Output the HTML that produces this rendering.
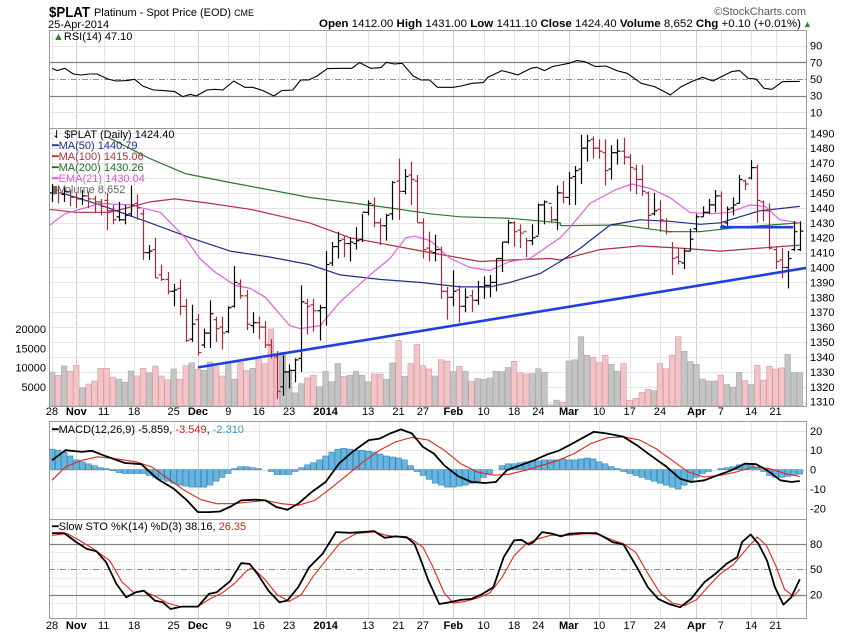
<!DOCTYPE html>
<html><head><meta charset="utf-8">
<style>
html,body{margin:0;padding:0;background:#fff;}
svg{display:block;font-family:"Liberation Sans",sans-serif;}
.ax{font-size:11px;fill:#000;}
</style></head>
<body>
<svg id="chart" width="850" height="633" viewBox="0 0 850 633">
  <defs>
    <clipPath id="cR"><rect x="49" y="30" width="757" height="98"/></clipPath>
    <clipPath id="cP"><rect x="49" y="128" width="757" height="278"/></clipPath>
    <clipPath id="cM"><rect x="49" y="421" width="757" height="98"/></clipPath>
    <clipPath id="cS"><rect x="49" y="519" width="757" height="99"/></clipPath>
  </defs>
  <rect x="0" y="0" width="850" height="633" fill="#fff"/>
  <g id="grid"></g>
  <g id="marks"></g>
  <g id="frames" fill="none" stroke="#9a9a9a" stroke-width="1">
    <rect x="49.5" y="30.5" width="757" height="98"/>
    <rect x="49.5" y="128.5" width="757" height="278"/>
    <rect x="49.5" y="421.5" width="757" height="98"/>
    <rect x="49.5" y="519.5" width="757" height="99"/>
  </g>
  <g id="axes"></g>

  <text x="49" y="17" font-size="15" font-weight="bold" textLength="41" lengthAdjust="spacingAndGlyphs">$PLAT</text>
  <text x="94" y="16" font-size="11" textLength="160" lengthAdjust="spacingAndGlyphs">Platinum  - Spot Price (EOD) <tspan font-size="9">CME</tspan></text>
  <text x="48" y="28" font-size="11">25-Apr-2014</text>
  <text x="319" y="27" font-size="11" textLength="482" lengthAdjust="spacingAndGlyphs"><tspan font-weight="bold">Open</tspan> 1412.00 <tspan font-weight="bold">High</tspan> 1431.00 <tspan font-weight="bold">Low</tspan> 1411.10 <tspan font-weight="bold">Close</tspan> 1424.40 <tspan font-weight="bold">Volume</tspan> 8,652 <tspan font-weight="bold">Chg</tspan> +0.10 (+0.01%)</text>
  <text x="803" y="27" font-size="9" fill="#2a8a2a">▲</text>
  <text x="806" y="15" font-size="11" text-anchor="end" fill="#555">©StockCharts.com</text>

  <text x="53" y="40" font-size="11"><tspan fill="#2a8a2a">▲</tspan>RSI(14) 47.10</text>

  <g font-size="11">
    <text x="52" y="138">⇃ $PLAT (Daily) 1424.40</text>
    <text x="52" y="149" fill="#1f2f8a">━MA(50) 1440.79</text>
    <text x="52" y="160" fill="#b03040">━MA(100) 1415.06</text>
    <text x="52" y="171" fill="#1e6e1e">━MA(200) 1430.26</text>
    <text x="52" y="182" fill="#e050e0">━EMA(21) 1430.04</text>
    <text x="52" y="193" fill="#666">▮Volume 8,652</text>
  </g>
  <text x="52" y="433" font-size="11">━MACD(12,26,9) -5.859, <tspan fill="#d02010">-3.549</tspan>, <tspan fill="#4090d0">-2.310</tspan></text>
  <text x="52" y="530" font-size="11">━Slow STO %K(14) %D(3) 38.16, <tspan fill="#d02010">26.35</tspan></text>
</svg>
<script>
// ---------- data ----------
const O = [1450,1452,1449,1451,1447,1446,1448,1446,1444,
1445,1438,1434,1432,1436,1443,
1436,1410,1412,1395,1392,1384,1386,1374,1352,
1365,1348,1356,1365,1360,1357,1374,1389,1381,1361,1363,1360,1348,1340,1320,1330,1331,1339,1376,1375,1371,
1373,1403,1414,1419,1416,1416,1419,1437,1442,1430,1428,1436,1458,1451,1462,1458,1430,1413,1410,1412,1384,
1380,1385,1374,1381,1378,1387,1388,1390,1406,1417,1430,1425,1424,1418,1421,1442,1443,1432,1450,
1447,1461,1466,1480,1486,1480,1477,1466,1477,1478,1474,1466,1459,1450,1436,1439,1431,1424,1407,1403,1411,
1426,1434,1437,1442,1448,1430,1440,1443,1458,1460,1467,1444,1438,1412,1405,1400,1412,1412];
const H = [1456,1455,1455,1452,1450,1452,1451,1448,1446,
1450,1442,1444,1442,1455,1449,
1439,1415,1420,1402,1397,1389,1392,1379,1375,
1369,1359,1378,1367,1367,1374,1401,1392,1385,1370,1367,1364,1352,1344,1341,1335,1339,1388,1379,1379,1375,
1411,1417,1424,1421,1420,1427,1436,1445,1447,1433,1436,1458,1473,1466,1471,1462,1433,1424,1422,1414,1387,
1398,1388,1386,1385,1391,1394,1395,1406,1417,1432,1431,1429,1420,1429,1443,1445,1441,1455,1458,
1464,1468,1489,1489,1488,1486,1486,1482,1486,1487,1476,1469,1469,1451,1450,1445,1433,1417,1413,1413,1426,
1436,1441,1446,1452,1451,1441,1447,1462,1459,1472,1469,1445,1443,1414,1413,1411,1431,1431];
const L = [1444,1443,1444,1441,1440,1442,1440,1437,1435,
1425,1429,1431,1429,1434,1432,
1405,1405,1393,1391,1382,1374,1368,1350,1350,
1341,1346,1346,1350,1345,1356,1373,1379,1358,1356,1352,1346,1339,1312,1314,1319,1323,1330,1355,1357,1351,
1361,1401,1406,1407,1404,1412,1417,1435,1427,1415,1418,1432,1432,1449,1442,1430,1406,1404,1404,1379,1365,
1374,1363,1370,1370,1375,1379,1380,1384,1397,1416,1414,1413,1407,1415,1422,1429,1430,1425,1443,
1442,1442,1456,1471,1473,1473,1455,1459,1469,1469,1451,1449,1448,1426,1435,1424,1422,1395,1402,1399,1411,
1424,1434,1436,1437,1427,1428,1435,1443,1452,1459,1430,1431,1412,1399,1393,1386,1411,1411];
const C = [1452,1450,1451,1447,1446,1448,1446,1444,1441,
1438,1432,1432,1435,1442,1440,
1410,1411,1393,1392,1384,1385,1374,1351,1362,
1343,1356,1369,1359,1356,1373,1390,1381,1362,1363,1360,1348,1341,1317,1330,1331,1338,1377,1374,1371,1373,
1402,1414,1418,1416,1417,1418,1437,1443,1430,1428,1435,1457,1451,1461,1459,1430,1412,1411,1412,1384,1380,
1384,1374,1380,1378,1387,1388,1390,1406,1417,1430,1424,1423,1418,1420,1442,1444,1432,1450,1447,
1460,1465,1480,1485,1480,1478,1465,1477,1478,1474,1467,1459,1451,1435,1438,1432,1424,1406,1404,1411,1419,
1434,1437,1442,1448,1428,1439,1442,1459,1456,1467,1445,1438,1413,1404,1400,1406,1424,1424.4];
// volume in thousands
const VOL = [8.8,8.0,10.4,9.0,10.6,4.7,5.7,6.5,9.8,
9.8,7.5,7.0,6.2,9.1,7.8,
9.8,8.6,10.4,7.8,6.8,9.6,7.0,10.5,11.2,
9.5,9.3,11.4,10.2,7.8,11.5,7.0,11.3,9.2,9.8,12.0,11.0,20.0,13.0,14.0,9.0,3.4,5.8,7.3,8.0,5.0,
9.0,6.3,11.0,7.7,8.0,9.0,8.0,6.3,8.3,8.3,6.9,11.2,17.0,7.7,11.0,16.0,10.5,9.6,7.8,12.0,11.6,
8.9,10.3,9.0,6.4,7.1,6.9,7.3,9.0,8.9,10.0,11.6,8.6,8.3,8.4,9.7,8.7,0.3,1.5,1.0,
11.7,12.0,18.0,13.2,12.6,11.3,13.2,10.8,9.0,11.0,1.5,2.0,3.5,4.3,4.0,11.0,9.7,13.2,18.0,14.2,11.5,
10.8,7.0,6.5,6.5,8.0,5.6,4.9,8.7,6.6,5.6,10.6,6.7,10.3,9.6,9.9,13.4,8.7,8.652];
// moving averages: [bar index, value]
const MA50 = [[1.6,1450],[7.9,1442],[16.1,1430],[22.7,1420],[29.3,1411],[35.9,1407],[42.3,1402],[47.4,1395],[53.9,1392],[60.5,1390],[67.1,1387],[72,1387],[75.3,1390],[80.3,1396],[83.6,1404],[86.9,1413],[91.8,1428.5],[96.7,1432],[101.6,1431],[106.6,1429],[109.9,1430],[116.4,1438],[123,1441]];
const MA100 = [[-0.5,1439],[3.8,1437],[9.5,1437],[16.1,1444],[20.2,1446],[26,1443],[32.6,1439],[42.3,1430],[49,1420],[55.6,1415],[62.2,1410],[70.4,1404],[75.3,1405],[81.9,1406],[83.6,1405],[90.1,1412],[96.7,1414.5],[103.3,1413],[109.9,1411],[116.4,1413],[123,1415]];
const MA200 = [[9.4,1487],[16.1,1473],[21.9,1463],[29.3,1457],[35.9,1452],[42.3,1447],[55.6,1440],[62.2,1436],[67.1,1434],[75.3,1433],[83.6,1430],[83.6,1428],[93.4,1428.5],[101.6,1424],[106.6,1424],[113.2,1427],[123,1430]];
const EMA21 = [[-0.5,1428],[2.1,1436],[7.9,1443],[12.8,1442],[17.8,1437],[21.9,1420],[24.3,1406],[26.8,1397],[30.1,1388],[32.6,1386],[35.1,1380],[39.1,1361],[40.8,1359],[44.1,1361],[47.4,1377],[52.3,1395],[55.6,1406],[58.2,1420],[59.7,1421],[62.2,1418],[65.5,1406],[68.8,1400],[72,1398],[75.3,1404],[78.6,1406],[83.6,1420],[85.2,1427],[88.5,1443],[92.6,1452],[95.4,1456],[98.4,1453],[101.6,1447],[104.9,1437],[108.2,1436],[111.5,1437],[114.8,1442],[117.3,1441],[119.7,1432],[123,1430]];
// support trend line & resistance line
const TREND = [[24,1333],[124.5,1400]];
const RESIST = [[109.9,1427],[121.9,1427]];
// RSI(14)
const RSI = [[0,62.8],[0.8,60],[2.1,62.8],[3.5,56],[4.8,54.8],[6.1,56],[7.4,56],[9.2,50],[10.5,47.6],[12.3,48],[13.6,49.6],[14.9,41.6],[16.7,36.8],[18.4,36],[20.2,34.8],[21.5,28.8],[22.8,31.6],[23.7,29.6],[25.5,36.8],[26.8,37.6],[28.1,36.8],[29.9,47.6],[31.7,40],[33,40],[34.7,36],[36.5,29.6],[37.8,36],[39.6,36.8],[40.9,48.8],[42.2,48.8],[43.6,53.6],[45.3,62.4],[48,62.8],[49.3,62.8],[50.6,69.6],[52.4,62.8],[54.1,63.6],[55,70],[56.3,68],[57.6,68.8],[59.4,53.6],[60.7,48.8],[62.1,48.8],[63.4,40],[64.7,40],[66,40],[67.3,41.6],[69.1,44.8],[70.9,45.6],[71.7,52],[74,60],[75.7,56.8],[76.6,54.8],[78.8,62.8],[79.7,64],[81,60],[82.3,64.8],[83.6,66.8],[85,68.8],[86.3,72],[87.6,70.8],[89.4,64.8],[91.1,65.6],[92.9,60],[94.6,56.8],[96.9,44.8],[99.1,40.8],[100.4,36],[101.7,30.8],[103.5,40.8],[105.2,46.8],[107,52],[108.7,47.6],[110.1,52.8],[111.8,58.8],[113.1,60],[114.5,50.8],[115.8,50],[117.1,38.8],[118.4,37.6],[120.2,46.8],[123,47.1]];
// MACD
const MACD = [[0,4.8],[2.2,10],[4.9,9.1],[6.6,9.7],[8.4,7.4],[12,3.4],[14.7,2.8],[17.3,-4.7],[20,-9.8],[22.2,-15.9],[24,-21.9],[25.8,-21.9],[27.6,-21.6],[29.4,-19],[31.1,-15.9],[33.4,-15.5],[35.1,-15.9],[36.9,-19.3],[38.7,-20.7],[40.5,-17.6],[42.7,-11.6],[45,-6.4],[47.2,3.1],[49.4,9.1],[52.1,15.2],[53.9,16],[55.6,18.6],[57.4,20.7],[59.2,18.6],[61,11.7],[62.8,8.3],[64.5,2.2],[66.8,-3.4],[69,-6.4],[71.2,-6.9],[73,-6.4],[74.8,-0.3],[77,2.2],[79.3,4.8],[81.5,7.9],[83.3,9.7],[85.1,12.6],[87.3,16.4],[89.1,19.5],[91.3,18.6],[94,16.9],[96.2,12.6],[98.4,7.4],[101.1,1.4],[103.3,-4.7],[105.1,-6.4],[107.3,-5.5],[109.5,-2.9],[111.8,-0.3],[114,3.1],[115.8,2.8],[117.6,-0.3],[119.8,-5.5],[121.6,-6.4],[123,-5.859]];
const SIGNAL = [[0,-5.5],[2.2,1.4],[4.9,4.8],[7.5,6.6],[10.2,5.7],[13.8,4],[16.4,1.4],[19.1,-4.7],[21.8,-10.7],[24.5,-15.5],[27.1,-17.6],[29.8,-17.6],[32.5,-16.7],[35.1,-15.9],[37.8,-17.6],[40.5,-18.4],[43.2,-15.9],[45.8,-9.8],[48.5,-2.9],[51.2,4],[53.9,10],[56.5,14.3],[59.2,16.6],[61.9,15.2],[64.5,10],[67.2,3.1],[69.9,-1.2],[72.6,-2.9],[75.2,-2.4],[77.9,-0.3],[80.6,2.2],[83.3,4.8],[85.9,8.3],[88.6,13.4],[91.3,16.4],[94,16.9],[96.7,15.2],[99.3,10.9],[102,4.8],[104.6,-1.2],[107.3,-3.8],[110,-2.9],[112.6,-1.2],[115.3,1.4],[118,0.5],[120.7,-2.1],[123,-3.549]];
const HIST = [10.5,10,9,7,5,4,3,2,1,0.5,-0.5,-1.5,-2,-2,-2,-2,-3,-4,-5,-6,-7,-8,-8.5,-9,-9,-9,-8,-6,-4,-2,0.5,1.5,1.5,1,0.5,0,-1,-2.5,-2.5,-2.5,-1,1,2.5,3.5,5,7,9,10.5,11,10.5,10,10,9.5,9,8,7,6.5,6,5,2,-1,-3,-5,-7,-8,-9,-9,-8.5,-8,-7,-6,-4,-2,0,2,3,3,3.5,4,4.5,4.5,5,5,5,5.5,5,5,5.5,6,5.5,4,3,1.5,0.5,-1,-2,-3,-4,-5,-6,-7,-8,-9,-10,-8,-6,-4,-2,-1,0,0.5,1,1.5,2.5,3,2.5,1,-1,-3,-4,-4,-3.5,-3,-2.31];
// Slow stochastic
const STOK = [[0,92.6],[2,92.6],[4,82],[5.7,74],[7.3,71.3],[8.9,58.3],[10.6,32.6],[12.2,16.8],[13.8,22.8],[15.1,24.7],[16.9,12.9],[18.2,10.9],[19.5,3],[21.3,5.8],[24,5.8],[25.8,20.8],[27.1,22.8],[29.3,35.8],[31.1,57.1],[32.5,56.3],[33.8,44.5],[35.6,24.7],[37.4,10.9],[38.7,12.9],[40.5,28.7],[42.3,52.4],[44.5,68.2],[46.7,93.8],[49,93],[50.7,93.8],[53,95],[54.7,87.1],[56.5,88.7],[58.3,87.9],[59.6,80],[60.5,64.2],[61.9,36.6],[63.7,8.9],[65.4,10.9],[67.2,13.7],[69,14.9],[70.8,20.8],[72.6,28.7],[74.3,64.2],[76,84],[77.2,84.7],[78.4,79.2],[79.2,82],[80.6,93.8],[82.4,91.8],[83.7,88.7],[85,91.8],[86.8,92.6],[89.5,92.6],[90.8,87.9],[92.2,82],[94,79.2],[96.2,52.4],[98,28.7],[99.7,14.9],[101.5,8.9],[103.3,5],[105.1,14.9],[107.3,34.6],[109.1,44.5],[110.9,56.3],[112.7,64.2],[113.5,82],[114.9,91],[116.2,80],[117.6,60.3],[118.9,28.7],[120.3,8.2],[121.6,16.8],[123,38.16]];
const STOD = [[0,90],[2.5,92],[4.5,84],[7,73],[9.5,60],[11.5,35],[13.5,22],[15,24],[17,18],[19,10],[21,6],[24,6],[26,15],[28,22],[30,33],[32,48],[33,52],[35,38],[37,20],[39,12],[41,20],[43,42],[45,60],[47.5,82],[50,92],[53,94],[55,90],[57,88],[59,86],[61,76],[62.5,55],[64.5,22],[66,10],[68,12],[70,16],[72,22],[74,40],[76,66],[78,80],[80,86],[82,90],[85,90],[88,92],[90,91],[92,85],[94,80],[96,70],[98,45],[100,22],[102,10],[104,7],[106,14],[108,30],[110,45],[112,55],[114,72],[116,88],[117.5,78],[119,55],[120.5,26],[122,18],[123,26.35]];
// x-axis ticks: [bar index, label, bold]
const XTICKS = [[0,'28',0],[4,'Nov',1],[8.5,'11',0],[13.5,'18',0],[20,'25',0],[24,'Dec',1],[29,'9',0],[34,'16',0],[39,'23',0],[45,'2014',1],[52,'13',0],[57,'21',0],[61,'27',0],[66,'Feb',1],[71,'10',0],[76,'18',0],[80,'24',0],[85,'Mar',1],[90,'10',0],[95,'17',0],[100,'24',0],[106,'Apr',1],[110,'7',0],[115,'14',0],[119,'21',0]];
const PRICE_TICKS = [1310,1320,1330,1340,1350,1360,1370,1380,1390,1400,1410,1420,1430,1440,1450,1460,1470,1480,1490];
const VOL_TICKS = [5000,10000,15000,20000];
const RSI_TICKS = [10,30,50,70,90];
const MACD_TICKS = [-20,-10,0,10,20];
const STO_TICKS = [20,50,80];

// ---------- scales ----------
const X0 = 52, DX = 6.08;
function xI(i){ return X0 + i*DX; }
function yP(p){ return 133.3 + (1490-p)*1.491; }
function yV(v){ return 406 - v*3.85; }
function yR(v){ return 62.3 + (70-v)*0.833; }
function yM(v){ return 469.6 - v*1.94; }
function yS(v){ return 569.2 - (v-50)*0.847; }

const NS = 'http://www.w3.org/2000/svg';
const grid = document.getElementById('grid');
const marks = document.getElementById('marks');
const axes = document.getElementById('axes');
function mk(tag, attrs, parent){
  const e = document.createElementNS(NS, tag);
  for (const k in attrs) e.setAttribute(k, attrs[k]);
  parent.appendChild(e);
  return e;
}
function hline(y, x1, x2, stroke, dash, w, parent, name){
  const l = mk('line', {x1:x1, x2:x2, y1:y, y2:y, stroke:stroke, 'stroke-width':w||1}, parent);
  if (dash) l.setAttribute('stroke-dasharray', dash);
  
  
  return l;
}
function pathFrom(pts, yf){
  return pts.map((p,k)=>(k?'L':'M')+xI(p[0]).toFixed(1)+','+yf(p[1]).toFixed(1)).join(' ');
}
function drawLine(pts, yf, color, w, clip, name){
  const p = mk('path', {d:pathFrom(pts,yf), fill:'none', stroke:color, 'stroke-width':w, 'clip-path':'url(#'+clip+')', 'stroke-linejoin':'round'}, marks);
  
  
}

// ---------- vertical grid & date labels ----------
const panels = [[30,128],[128,406],[421,519],[519,618]];
XTICKS.forEach(t=>{
  const x = Math.round(xI(t[0]))+0.5;
  panels.forEach(pn=>{
    const l = mk('line', {x1:x, x2:x, y1:pn[0], y2:pn[1], stroke: t[2]?'#cfcfcf':'#e4e4e4', 'stroke-width':1}, grid);
    
    
  });
  [415,629].forEach(yy=>{
    const tx = mk('text', {x:xI(t[0]), y:yy, 'text-anchor':'middle', class:'ax', 'font-weight': t[2]?'bold':'normal'}, axes);
    tx.textContent = t[1];
    
    
  });
});

// ---------- horizontal grid & axis labels ----------
PRICE_TICKS.forEach(p=>{
  hline(Math.round(yP(p))+0.5, 49, 806, '#e4e4e4', null, 1, grid, 'price-gridline');
  const tx = mk('text', {x:810, y:yP(p)+4, class:'ax'}, axes);
  tx.textContent = p;
  
  
});
VOL_TICKS.forEach(v=>{
  const tx = mk('text', {x:46, y:yV(v/1000)+4, class:'ax', 'text-anchor':'end'}, axes);
  tx.textContent = v;
  
  
});
RSI_TICKS.forEach(v=>{
  const y = Math.round(yR(v))+0.5;
  if (v===70 || v===30) hline(y, 49, 806, '#808080', null, 1.3, grid, 'rsi-threshold-line');
  else if (v===50) hline(y, 49, 806, '#909090', '6,2,1,2', 1, grid, 'rsi-midline');
  else hline(y, 49, 806, '#e4e4e4', null, 1, grid, 'rsi-gridline');
  const tx = mk('text', {x:810, y:yR(v)+4, class:'ax'}, axes);
  tx.textContent = v;
  
  
});
MACD_TICKS.forEach(v=>{
  hline(Math.round(yM(v))+0.5, 49, 806, '#e4e4e4', null, 1, grid, 'macd-gridline');
  const tx = mk('text', {x:810, y:yM(v)+4, class:'ax'}, axes);
  tx.textContent = v;
  
  
});
[10,30,40,60,70,90].forEach(v=>hline(Math.round(yS(v))+0.5, 49, 806, '#ececec', null, 1, grid, 'sto-gridline'));
STO_TICKS.forEach(v=>{
  const y = Math.round(yS(v))+0.5;
  if (v===50) hline(y, 49, 806, '#909090', '6,2,1,2', 1, grid, 'sto-midline');
  else hline(y, 49, 806, '#808080', null, 1.3, grid, 'sto-threshold-line');
  const tx = mk('text', {x:810, y:yS(v)+4, class:'ax'}, axes);
  tx.textContent = v;
  
  
});

// ---------- volume bars ----------
VOL.forEach((v,i)=>{
  const down = i>0 && C[i] < C[i-1];
  const r = mk('rect', {x:(xI(i)-2.8).toFixed(1), y:yV(v).toFixed(1), width:5.6, height:(406-yV(v)).toFixed(1),
    fill: down?'#f2c4c8':'#c4c4c4', stroke: down?'#d49aa0':'#a8a8a8', 'stroke-width':0.6, 'clip-path':'url(#cP)'}, marks);
  
  
});

// ---------- moving averages ----------
drawLine(MA200, yP, '#2a7a2a', 1.2, 'cP', 'ma200-line');
drawLine(MA100, yP, '#b03040', 1.2, 'cP', 'ma100-line');
drawLine(MA50, yP, '#1f2f8a', 1.2, 'cP', 'ma50-line');
drawLine(EMA21, yP, '#e060e0', 1.2, 'cP', 'ema21-line');

// ---------- OHLC bars ----------
C.forEach((c,i)=>{
  const down = i>0 && c < C[i-1];
  const col = down ? '#a8283c' : '#000';
  const x = Math.round(xI(i))+0.5;
  const g = mk('g', {stroke:col, 'stroke-width':1.2, 'clip-path':'url(#cP)'}, marks);
  
  
  mk('line', {x1:x, x2:x, y1:yP(H[i]).toFixed(1), y2:yP(L[i]).toFixed(1)}, g);
  mk('line', {x1:x-3, x2:x, y1:yP(O[i]).toFixed(1), y2:yP(O[i]).toFixed(1)}, g);
  mk('line', {x1:x, x2:x+3, y1:yP(c).toFixed(1), y2:yP(c).toFixed(1)}, g);
});

// ---------- trend lines ----------
drawLine(TREND, yP, '#1e3ee0', 2.6, 'cP', 'support-trendline');
drawLine(RESIST, yP, '#1e3ee0', 2.6, 'cP', 'resistance-line');

// ---------- RSI ----------
drawLine(RSI, yR, '#000', 1.1, 'cR', 'rsi-line');

// ---------- MACD ----------
HIST.forEach((h,i)=>{
  const y0 = yM(0), y1 = yM(h);
  const r = mk('rect', {x:(xI(i)-2.8).toFixed(1), y:Math.min(y0,y1).toFixed(1), width:5.6, height:Math.abs(y1-y0).toFixed(1),
    fill:'#68b4dc', stroke:'#2f86b8', 'stroke-width':0.6, 'clip-path':'url(#cM)'}, marks);
  
  
});
drawLine(SIGNAL, yM, '#e02818', 1.1, 'cM', 'macd-signal-line');
drawLine(MACD, yM, '#000', 1.8, 'cM', 'macd-line');

// ---------- Stochastic ----------
drawLine(STOD, yS, '#e02818', 1.1, 'cS', 'sto-d-line');
drawLine(STOK, yS, '#000', 1.8, 'cS', 'sto-k-line');
</script>
</body></html>
